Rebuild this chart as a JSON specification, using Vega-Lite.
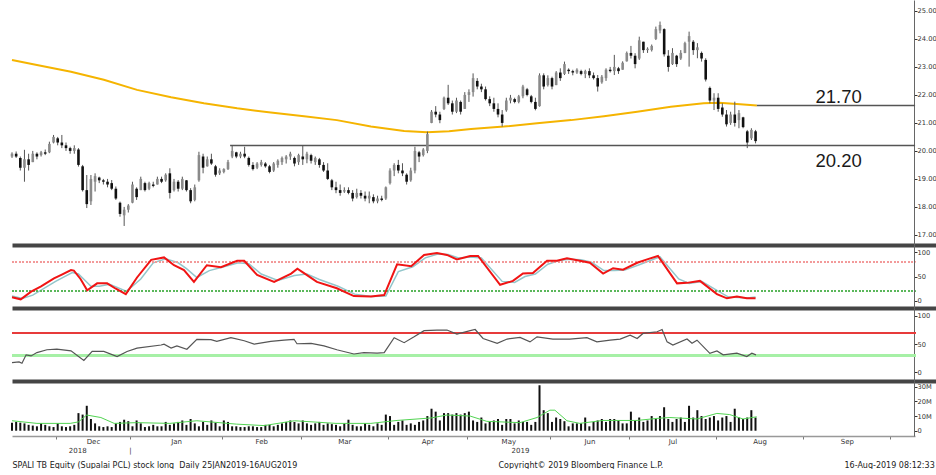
{
"$schema":"https://vega.github.io/schema/vega-lite/v6.json",
"background":"white",
"padding":{"left":8,"top":0,"right":0,"bottom":0},
"spacing":0,
"bounds":"flush",
"config":{"view":{"stroke":null},"scale":{"continuousPadding":0},"axis":{"grid":false,"labelOverlap":false,"labelBound":false,"labelFont":"DejaVu Sans","labelFontSize":6.7,"labelColor":"#333","tickColor":"#333","domainColor":"#666","tickSize":3,"labelPadding":0,"titleFont":"DejaVu Sans","titleFontWeight":"normal","titleFontSize":8,"titleColor":"#222"}},
"datasets":{
"px":[
{"i":0,"o":19.8,"h":19.95,"l":19.75,"c":19.9,"v":5.5},
{"i":1,"o":19.9,"h":19.98,"l":19.75,"c":19.8,"v":6},
{"i":2,"o":19.75,"h":19.8,"l":19.3,"c":19.4,"v":5.5},
{"i":3,"o":19.4,"h":20.04,"l":18.9,"c":19.7,"v":5},
{"i":4,"o":19.7,"h":19.9,"l":19.3,"c":19.5,"v":4},
{"i":5,"o":19.6,"h":20.0,"l":19.6,"c":19.9,"v":3.5},
{"i":6,"o":19.9,"h":19.95,"l":19.7,"c":19.8,"v":3},
{"i":7,"o":19.85,"h":20.0,"l":19.8,"c":19.95,"v":5},
{"i":8,"o":19.95,"h":20.05,"l":19.85,"c":19.9,"v":4},
{"i":9,"o":19.95,"h":20.33,"l":19.92,"c":20.25,"v":3},
{"i":10,"o":20.3,"h":20.57,"l":20.27,"c":20.5,"v":2.5},
{"i":11,"o":20.45,"h":20.5,"l":20.2,"c":20.3,"v":5},
{"i":12,"o":20.3,"h":20.57,"l":20.1,"c":20.2,"v":3},
{"i":13,"o":20.2,"h":20.3,"l":20.0,"c":20.1,"v":2.5},
{"i":14,"o":20.1,"h":20.15,"l":19.9,"c":20.0,"v":3},
{"i":15,"o":20.0,"h":20.2,"l":19.9,"c":20.1,"v":4},
{"i":16,"o":20.05,"h":20.1,"l":19.44,"c":19.5,"v":12},
{"i":17,"o":19.45,"h":19.5,"l":18.55,"c":18.6,"v":11},
{"i":18,"o":18.6,"h":19.14,"l":17.96,"c":18.1,"v":17},
{"i":19,"o":18.2,"h":19.14,"l":18.07,"c":19.0,"v":8},
{"i":20,"o":18.9,"h":19.2,"l":18.55,"c":19.1,"v":5},
{"i":21,"o":19.05,"h":19.08,"l":18.85,"c":18.95,"v":3},
{"i":22,"o":18.95,"h":19.0,"l":18.8,"c":18.9,"v":2.5},
{"i":23,"o":18.9,"h":19.0,"l":18.7,"c":18.8,"v":3},
{"i":24,"o":18.85,"h":18.96,"l":18.6,"c":18.65,"v":2.5},
{"i":25,"o":18.65,"h":18.73,"l":18.25,"c":18.3,"v":5},
{"i":26,"o":18.15,"h":18.19,"l":17.65,"c":17.75,"v":6},
{"i":27,"o":17.7,"h":18.0,"l":17.32,"c":17.9,"v":7.5},
{"i":28,"o":17.9,"h":18.1,"l":17.8,"c":18.05,"v":6.5},
{"i":29,"o":18.15,"h":18.9,"l":18.13,"c":18.8,"v":3},
{"i":30,"o":18.65,"h":18.7,"l":18.25,"c":18.35,"v":7},
{"i":31,"o":18.6,"h":19.08,"l":18.6,"c":19.0,"v":5},
{"i":32,"o":18.85,"h":18.9,"l":18.55,"c":18.6,"v":2.5},
{"i":33,"o":18.65,"h":18.9,"l":18.6,"c":18.85,"v":3},
{"i":34,"o":18.8,"h":18.9,"l":18.7,"c":18.75,"v":4},
{"i":35,"o":18.8,"h":19.08,"l":18.8,"c":19.0,"v":3},
{"i":36,"o":19.0,"h":19.08,"l":18.85,"c":18.9,"v":3},
{"i":37,"o":18.95,"h":19.2,"l":18.9,"c":19.15,"v":6},
{"i":38,"o":19.2,"h":19.38,"l":18.3,"c":18.5,"v":4},
{"i":39,"o":18.6,"h":19.0,"l":18.55,"c":18.9,"v":5},
{"i":40,"o":18.9,"h":18.96,"l":18.55,"c":18.65,"v":6},
{"i":41,"o":18.65,"h":19.08,"l":18.6,"c":19.0,"v":7},
{"i":42,"o":18.95,"h":18.96,"l":18.55,"c":18.6,"v":4},
{"i":43,"o":18.6,"h":18.67,"l":18.13,"c":18.2,"v":8},
{"i":44,"o":18.25,"h":18.8,"l":18.2,"c":18.7,"v":5},
{"i":45,"o":18.95,"h":19.97,"l":18.9,"c":19.85,"v":3},
{"i":46,"o":19.8,"h":19.9,"l":19.2,"c":19.4,"v":6},
{"i":47,"o":19.45,"h":19.8,"l":19.44,"c":19.7,"v":4},
{"i":48,"o":19.7,"h":19.9,"l":19.5,"c":19.55,"v":7},
{"i":49,"o":19.45,"h":19.5,"l":19.08,"c":19.15,"v":5.5},
{"i":50,"o":19.2,"h":19.38,"l":19.14,"c":19.3,"v":3},
{"i":51,"o":19.25,"h":19.38,"l":19.2,"c":19.35,"v":7},
{"i":52,"o":19.35,"h":19.68,"l":19.32,"c":19.6,"v":6},
{"i":53,"o":19.8,"h":20.2,"l":19.74,"c":20.0,"v":3},
{"i":54,"o":19.95,"h":19.97,"l":19.74,"c":19.8,"v":3},
{"i":55,"o":19.8,"h":19.97,"l":19.74,"c":19.9,"v":2.5},
{"i":56,"o":19.9,"h":20.15,"l":19.74,"c":19.8,"v":2.5},
{"i":57,"o":19.75,"h":19.8,"l":19.44,"c":19.5,"v":3},
{"i":58,"o":19.5,"h":19.6,"l":19.3,"c":19.35,"v":3},
{"i":59,"o":19.4,"h":19.6,"l":19.35,"c":19.55,"v":2.5},
{"i":60,"o":19.5,"h":19.68,"l":19.44,"c":19.6,"v":2.5},
{"i":61,"o":19.55,"h":19.6,"l":19.4,"c":19.45,"v":4},
{"i":62,"o":19.45,"h":19.5,"l":19.2,"c":19.25,"v":4},
{"i":63,"o":19.3,"h":19.6,"l":19.25,"c":19.55,"v":3},
{"i":64,"o":19.5,"h":19.7,"l":19.4,"c":19.65,"v":4},
{"i":65,"o":19.6,"h":19.8,"l":19.5,"c":19.75,"v":5},
{"i":66,"o":19.7,"h":19.85,"l":19.55,"c":19.8,"v":6},
{"i":67,"o":19.8,"h":19.97,"l":19.68,"c":19.9,"v":7},
{"i":68,"o":19.75,"h":19.8,"l":19.45,"c":19.55,"v":6},
{"i":69,"o":19.6,"h":19.9,"l":19.5,"c":19.85,"v":5},
{"i":70,"o":19.8,"h":20.2,"l":19.5,"c":19.7,"v":7},
{"i":71,"o":19.7,"h":19.97,"l":19.56,"c":19.9,"v":5},
{"i":72,"o":19.85,"h":19.9,"l":19.55,"c":19.65,"v":4},
{"i":73,"o":19.6,"h":19.8,"l":19.5,"c":19.75,"v":5},
{"i":74,"o":19.7,"h":19.75,"l":19.4,"c":19.5,"v":6},
{"i":75,"o":19.5,"h":19.6,"l":19.25,"c":19.3,"v":4},
{"i":76,"o":19.3,"h":19.56,"l":18.96,"c":19.0,"v":5},
{"i":77,"o":18.95,"h":19.0,"l":18.6,"c":18.7,"v":4.5},
{"i":78,"o":18.7,"h":18.9,"l":18.49,"c":18.6,"v":4},
{"i":79,"o":18.6,"h":18.8,"l":18.4,"c":18.5,"v":3},
{"i":80,"o":18.55,"h":18.7,"l":18.5,"c":18.6,"v":5},
{"i":81,"o":18.6,"h":18.7,"l":18.45,"c":18.5,"v":7.5},
{"i":82,"o":18.5,"h":18.6,"l":18.2,"c":18.3,"v":4},
{"i":83,"o":18.35,"h":18.65,"l":18.3,"c":18.5,"v":3},
{"i":84,"o":18.5,"h":18.6,"l":18.3,"c":18.4,"v":3},
{"i":85,"o":18.4,"h":18.55,"l":18.2,"c":18.3,"v":5},
{"i":86,"o":18.3,"h":18.55,"l":18.13,"c":18.4,"v":4},
{"i":87,"o":18.35,"h":18.45,"l":18.13,"c":18.2,"v":3},
{"i":88,"o":18.2,"h":18.4,"l":18.13,"c":18.3,"v":5},
{"i":89,"o":18.3,"h":18.4,"l":18.2,"c":18.25,"v":4},
{"i":90,"o":18.3,"h":18.73,"l":18.25,"c":18.7,"v":11},
{"i":91,"o":18.85,"h":19.38,"l":18.8,"c":19.3,"v":10},
{"i":92,"o":19.3,"h":19.56,"l":19.1,"c":19.5,"v":4},
{"i":93,"o":19.5,"h":19.68,"l":19.2,"c":19.3,"v":6},
{"i":94,"o":19.3,"h":19.56,"l":19.1,"c":19.2,"v":7},
{"i":95,"o":19.15,"h":19.2,"l":18.8,"c":18.9,"v":4},
{"i":96,"o":18.95,"h":19.4,"l":18.9,"c":19.3,"v":5},
{"i":97,"o":19.3,"h":20.15,"l":19.2,"c":20.0,"v":4},
{"i":98,"o":19.95,"h":20.0,"l":19.6,"c":19.8,"v":6},
{"i":99,"o":19.85,"h":20.1,"l":19.8,"c":20.05,"v":7},
{"i":100,"o":20.0,"h":20.69,"l":19.92,"c":20.6,"v":10},
{"i":101,"o":21.0,"h":21.46,"l":20.99,"c":21.4,"v":15},
{"i":102,"o":21.4,"h":21.6,"l":21.2,"c":21.3,"v":13},
{"i":103,"o":21.3,"h":21.4,"l":20.99,"c":21.1,"v":7},
{"i":104,"o":21.5,"h":21.94,"l":21.46,"c":21.9,"v":12},
{"i":105,"o":21.9,"h":22.36,"l":21.64,"c":21.7,"v":12},
{"i":106,"o":21.7,"h":21.8,"l":21.3,"c":21.4,"v":11},
{"i":107,"o":21.4,"h":21.9,"l":21.35,"c":21.8,"v":12},
{"i":108,"o":21.75,"h":21.8,"l":21.3,"c":21.4,"v":11},
{"i":109,"o":21.5,"h":22.1,"l":21.5,"c":22.0,"v":12},
{"i":110,"o":22.0,"h":22.2,"l":21.75,"c":22.1,"v":13},
{"i":111,"o":22.1,"h":22.77,"l":21.94,"c":22.6,"v":7},
{"i":112,"o":22.5,"h":22.6,"l":22.2,"c":22.3,"v":6},
{"i":113,"o":22.3,"h":22.4,"l":22.1,"c":22.2,"v":9},
{"i":114,"o":22.2,"h":22.3,"l":21.8,"c":21.85,"v":5},
{"i":115,"o":21.85,"h":21.95,"l":21.6,"c":21.7,"v":6},
{"i":116,"o":21.7,"h":21.9,"l":21.4,"c":21.5,"v":7},
{"i":117,"o":21.5,"h":21.7,"l":21.2,"c":21.3,"v":8},
{"i":118,"o":21.3,"h":21.46,"l":20.87,"c":21.0,"v":4},
{"i":119,"o":21.45,"h":21.9,"l":21.4,"c":21.8,"v":8},
{"i":120,"o":21.8,"h":22.0,"l":21.7,"c":21.9,"v":8},
{"i":121,"o":21.85,"h":21.9,"l":21.7,"c":21.75,"v":5},
{"i":122,"o":21.75,"h":22.0,"l":21.7,"c":21.95,"v":7},
{"i":123,"o":21.95,"h":22.36,"l":21.88,"c":22.3,"v":6},
{"i":124,"o":22.2,"h":22.25,"l":21.95,"c":22.0,"v":6},
{"i":125,"o":21.95,"h":22.0,"l":21.7,"c":21.75,"v":4},
{"i":126,"o":21.75,"h":21.9,"l":21.45,"c":21.5,"v":6},
{"i":127,"o":21.6,"h":22.77,"l":21.58,"c":22.7,"v":31},
{"i":128,"o":22.7,"h":22.77,"l":22.2,"c":22.3,"v":14},
{"i":129,"o":22.35,"h":22.7,"l":22.3,"c":22.6,"v":12},
{"i":130,"o":22.6,"h":22.65,"l":22.2,"c":22.3,"v":6},
{"i":131,"o":22.35,"h":22.85,"l":22.35,"c":22.8,"v":9},
{"i":132,"o":22.8,"h":22.95,"l":22.5,"c":22.6,"v":8},
{"i":133,"o":22.75,"h":23.19,"l":22.71,"c":23.1,"v":6.5},
{"i":134,"o":22.9,"h":22.95,"l":22.75,"c":22.85,"v":3},
{"i":135,"o":22.85,"h":22.9,"l":22.7,"c":22.8,"v":5},
{"i":136,"o":22.8,"h":22.95,"l":22.75,"c":22.9,"v":5},
{"i":137,"o":22.85,"h":22.9,"l":22.7,"c":22.75,"v":5},
{"i":138,"o":22.75,"h":22.9,"l":22.6,"c":22.85,"v":9},
{"i":139,"o":22.85,"h":22.95,"l":22.6,"c":22.7,"v":3},
{"i":140,"o":22.7,"h":22.8,"l":22.55,"c":22.6,"v":6},
{"i":141,"o":22.6,"h":22.71,"l":22.12,"c":22.3,"v":7},
{"i":142,"o":22.45,"h":22.71,"l":22.4,"c":22.65,"v":8},
{"i":143,"o":22.6,"h":22.95,"l":22.5,"c":22.9,"v":6},
{"i":144,"o":22.9,"h":23.0,"l":22.8,"c":22.85,"v":8},
{"i":145,"o":22.85,"h":23.43,"l":22.71,"c":23.0,"v":8},
{"i":146,"o":22.95,"h":23.0,"l":22.75,"c":22.85,"v":7},
{"i":147,"o":22.9,"h":23.2,"l":22.9,"c":23.15,"v":5},
{"i":148,"o":23.2,"h":23.55,"l":23.19,"c":23.5,"v":5},
{"i":149,"o":23.5,"h":23.75,"l":23.3,"c":23.4,"v":13},
{"i":150,"o":23.4,"h":23.49,"l":22.95,"c":23.1,"v":7},
{"i":151,"o":23.3,"h":24.08,"l":23.25,"c":23.95,"v":9},
{"i":152,"o":23.9,"h":23.9,"l":23.5,"c":23.6,"v":6},
{"i":153,"o":23.6,"h":23.7,"l":23.5,"c":23.65,"v":7},
{"i":154,"o":23.6,"h":23.8,"l":23.55,"c":23.75,"v":10},
{"i":155,"o":24.0,"h":24.44,"l":23.96,"c":24.35,"v":8},
{"i":156,"o":24.3,"h":24.62,"l":24.2,"c":24.5,"v":10},
{"i":157,"o":24.35,"h":24.38,"l":23.37,"c":23.45,"v":16},
{"i":158,"o":23.4,"h":23.6,"l":22.83,"c":23.0,"v":8},
{"i":159,"o":23.1,"h":23.67,"l":23.07,"c":23.5,"v":6},
{"i":160,"o":23.4,"h":23.43,"l":23.0,"c":23.1,"v":8},
{"i":161,"o":23.3,"h":23.6,"l":23.25,"c":23.5,"v":9},
{"i":162,"o":23.5,"h":23.9,"l":23.49,"c":23.85,"v":6},
{"i":163,"o":23.9,"h":24.26,"l":23.01,"c":24.1,"v":17},
{"i":164,"o":23.9,"h":23.96,"l":23.43,"c":23.6,"v":9},
{"i":165,"o":23.6,"h":23.85,"l":23.31,"c":23.7,"v":14},
{"i":166,"o":23.5,"h":23.55,"l":23.19,"c":23.3,"v":10},
{"i":167,"o":23.25,"h":23.31,"l":22.48,"c":22.55,"v":8},
{"i":168,"o":22.25,"h":22.3,"l":21.7,"c":21.8,"v":9},
{"i":169,"o":21.8,"h":22.06,"l":21.46,"c":21.9,"v":10},
{"i":170,"o":21.9,"h":22.06,"l":21.4,"c":21.5,"v":7},
{"i":171,"o":21.55,"h":21.7,"l":21.22,"c":21.3,"v":9},
{"i":172,"o":21.3,"h":21.46,"l":20.87,"c":20.95,"v":10},
{"i":173,"o":21.0,"h":21.4,"l":20.93,"c":21.3,"v":6},
{"i":174,"o":21.3,"h":21.76,"l":20.87,"c":21.0,"v":15},
{"i":175,"o":21.1,"h":21.46,"l":20.81,"c":21.35,"v":9},
{"i":176,"o":21.2,"h":21.22,"l":20.81,"c":20.85,"v":8},
{"i":177,"o":20.7,"h":20.75,"l":20.1,"c":20.3,"v":9},
{"i":178,"o":20.45,"h":20.81,"l":20.39,"c":20.75,"v":14},
{"i":179,"o":20.7,"h":20.75,"l":20.27,"c":20.35,"v":9}
],
"ma":[
{"i":0,"p":23.25},{"i":6,"p":23.07},{"i":14.2,"p":22.83},{"i":22.1,"p":22.54},{"i":30.1,"p":22.18},{"i":38.3,"p":21.92},{"i":46.2,"p":21.7},{"i":54.2,"p":21.52},{"i":62.3,"p":21.37},{"i":70.3,"p":21.24},{"i":78.2,"p":21.1},{"i":86.4,"p":20.87},{"i":94.4,"p":20.71},{"i":99.9,"p":20.67},{"i":105.2,"p":20.7},{"i":110.5,"p":20.78},{"i":118.4,"p":20.87},{"i":126.4,"p":20.99},{"i":134.6,"p":21.1},{"i":142.5,"p":21.24},{"i":150.5,"p":21.4},{"i":158.6,"p":21.58},{"i":166.5,"p":21.7},{"i":170.2,"p":21.72},{"i":174.5,"p":21.68},{"i":179.3,"p":21.62}
],
"lv":[
{"i":52.5,"to":217.4,"lvl":20.19,"label":"20.20"},
{"i":179.3,"to":217.4,"lvl":21.62,"label":"21.70"}
],
"sk":[
{"i":0,"v":7.5},{"i":2.1,"v":3.4},{"i":4.6,"v":19},{"i":7,"v":30},{"i":10.1,"v":46},{"i":12,"v":54},{"i":14.2,"v":63},{"i":14.9,"v":62},{"i":16.5,"v":45},{"i":18.1,"v":22},{"i":20.5,"v":36},{"i":22.9,"v":36},{"i":25,"v":25},{"i":27.4,"v":14},{"i":30.1,"v":48},{"i":33.5,"v":84},{"i":36.6,"v":89},{"i":39,"v":73},{"i":41.4,"v":63},{"i":43.8,"v":39},{"i":46.9,"v":73},{"i":50.3,"v":69},{"i":54.2,"v":82},{"i":55.9,"v":82},{"i":59,"v":53},{"i":63.1,"v":39},{"i":67.2,"v":56},{"i":68.7,"v":66},{"i":70.3,"v":57},{"i":73.4,"v":39},{"i":78.2,"v":26},{"i":82.3,"v":10},{"i":86.4,"v":9},{"i":89.6,"v":12},{"i":92.7,"v":75},{"i":96.1,"v":71},{"i":99.2,"v":94},{"i":102.3,"v":98},{"i":104.7,"v":94},{"i":107.1,"v":85},{"i":110.3,"v":92},{"i":112.2,"v":92},{"i":117.5,"v":33},{"i":120.6,"v":41},{"i":123,"v":56},{"i":125.4,"v":57},{"i":128.8,"v":82},{"i":131.2,"v":82},{"i":133.6,"v":87},{"i":136.7,"v":82},{"i":139.1,"v":78},{"i":142.3,"v":56},{"i":144.7,"v":67},{"i":147.1,"v":64},{"i":150.5,"v":78},{"i":152.9,"v":85},{"i":155.5,"v":92},{"i":160.1,"v":36},{"i":162.5,"v":37},{"i":165.6,"v":41},{"i":169.7,"v":14},{"i":172.1,"v":5.5},{"i":174.5,"v":9},{"i":176.9,"v":5.5},{"i":179,"v":5.5}
],
"sd":[
{"i":0,"v":10},{"i":2.5,"v":5},{"i":5,"v":12},{"i":10.5,"v":40},{"i":14.5,"v":58},{"i":16,"v":55},{"i":19,"v":30},{"i":21,"v":30},{"i":23.5,"v":34},{"i":27.5,"v":20},{"i":29,"v":30},{"i":31,"v":45},{"i":34,"v":78},{"i":37,"v":86},{"i":40,"v":78},{"i":42,"v":66},{"i":44.5,"v":48},{"i":47.5,"v":62},{"i":51,"v":70},{"i":54.5,"v":78},{"i":57,"v":76},{"i":60,"v":55},{"i":64,"v":42},{"i":68,"v":52},{"i":71,"v":55},{"i":74,"v":44},{"i":78.5,"v":30},{"i":82.5,"v":14},{"i":86.5,"v":9},{"i":90,"v":10},{"i":93,"v":60},{"i":96.5,"v":70},{"i":99.5,"v":88},{"i":102.5,"v":96},{"i":105,"v":95},{"i":107.5,"v":88},{"i":110.5,"v":90},{"i":113,"v":88},{"i":118,"v":40},{"i":121,"v":38},{"i":123.5,"v":50},{"i":126,"v":55},{"i":129,"v":75},{"i":131.5,"v":82},{"i":134,"v":85},{"i":137,"v":84},{"i":139.5,"v":79},{"i":142.5,"v":62},{"i":145,"v":62},{"i":147.5,"v":63},{"i":151,"v":74},{"i":153.5,"v":82},{"i":156,"v":90},{"i":160.5,"v":45},{"i":163,"v":36},{"i":166,"v":40},{"i":170,"v":20},{"i":172.5,"v":8},{"i":175,"v":7},{"i":177,"v":6},{"i":179,"v":8}
],
"rsi":[
{"i":0,"v":17},{"i":1.7,"v":18.5},{"i":2.4,"v":16},{"i":3.4,"v":31},{"i":4.6,"v":29},{"i":6,"v":35},{"i":8.4,"v":40},{"i":10.8,"v":41},{"i":14.2,"v":38},{"i":17.3,"v":21},{"i":19.3,"v":37},{"i":22.1,"v":37},{"i":25.3,"v":28},{"i":27.7,"v":37},{"i":30.1,"v":43},{"i":35.9,"v":48.5},{"i":36.6,"v":50},{"i":38.3,"v":43},{"i":39.7,"v":47},{"i":42.1,"v":41},{"i":44.5,"v":58.6},{"i":47.9,"v":58},{"i":49.3,"v":55},{"i":52.7,"v":61.5},{"i":55.9,"v":56},{"i":58.3,"v":50},{"i":62.3,"v":55},{"i":65.5,"v":57},{"i":67.9,"v":58.6},{"i":68.6,"v":50.7},{"i":72,"v":51.5},{"i":75.1,"v":47},{"i":78.2,"v":40},{"i":82.3,"v":32.5},{"i":84.7,"v":35},{"i":87.9,"v":34},{"i":89.6,"v":35},{"i":92,"v":61.5},{"i":94.4,"v":52.6},{"i":96.8,"v":63},{"i":99.2,"v":74},{"i":102.3,"v":75},{"i":104.7,"v":75},{"i":107.1,"v":68},{"i":110.3,"v":74},{"i":111.5,"v":76},{"i":113.4,"v":60},{"i":116.8,"v":51.5},{"i":119.2,"v":59},{"i":122.3,"v":62},{"i":124.7,"v":54},{"i":126.4,"v":63},{"i":130.2,"v":59},{"i":134.3,"v":59},{"i":138.4,"v":61.5},{"i":140.8,"v":54},{"i":144,"v":57},{"i":146.4,"v":59},{"i":148.8,"v":66},{"i":150.5,"v":60},{"i":151.9,"v":69},{"i":155.3,"v":72},{"i":156.5,"v":76},{"i":157.7,"v":54},{"i":159.1,"v":48.5},{"i":162.5,"v":59},{"i":163.7,"v":51.5},{"i":164.9,"v":57},{"i":168,"v":33.7},{"i":169.7,"v":38},{"i":171.2,"v":31},{"i":174.5,"v":34},{"i":176.9,"v":28},{"i":178.1,"v":34},{"i":179.1,"v":31}
],
"vma":[
{"i":0,"v":6.8},{"i":6,"v":5},{"i":14,"v":5},{"i":16,"v":6},{"i":18,"v":10.7},{"i":21.4,"v":9},{"i":24.6,"v":5},{"i":30,"v":5.5},{"i":38,"v":5},{"i":44.5,"v":6.8},{"i":54,"v":4.5},{"i":60.7,"v":3.5},{"i":68,"v":6.8},{"i":78,"v":5},{"i":86.4,"v":5},{"i":92.7,"v":7},{"i":100.9,"v":8.7},{"i":104.7,"v":10.7},{"i":110.3,"v":10},{"i":114.3,"v":6.4},{"i":122.3,"v":5.5},{"i":126.4,"v":9},{"i":129.5,"v":14},{"i":130.7,"v":14},{"i":133.6,"v":6.8},{"i":136.7,"v":5},{"i":142.3,"v":7},{"i":150.5,"v":7},{"i":155.3,"v":8.4},{"i":158.4,"v":9},{"i":164.9,"v":8},{"i":169.7,"v":11.8},{"i":172.8,"v":11},{"i":176,"v":8},{"i":179.3,"v":9.5}
]
},
"vconcat":[
{"width":928,"height":245,
"layer":[
{"data":{"name":"ma"},"mark":{"type":"line","color":"#f5b400","strokeWidth":2},
"encoding":{"x":{"field":"i","type":"quantitative","scale":{"domain":[0,223.4],"nice":false,"padding":0},"axis":{"orient":"bottom","labels":false,"ticks":false,"title":null,"domainColor":"#454545","domainWidth":4}},
"y":{"field":"p","type":"quantitative","scale":{"domain":[16.64,25.39],"zero":false,"nice":false},"axis":{"orient":"right","offset":-26,"values":[17,18,19,20,21,22,23,24,25],"format":".2f","title":null,"labelOverlap":false,"labelSeparation":0,"tickCount":9}}}},
{"data":{"name":"lv"},"mark":{"type":"rule","color":"#555","strokeWidth":1.5},
"encoding":{"x":{"field":"i","type":"quantitative","scale":{"domain":[0,223.4],"nice":false,"padding":0}},"x2":{"field":"to"},"y":{"field":"lvl","type":"quantitative","scale":{"domain":[16.64,25.39],"zero":false,"nice":false}}}},
{"data":{"name":"px"},"mark":{"type":"rule","color":"#555","strokeWidth":1},
"encoding":{"x":{"field":"i","type":"quantitative","scale":{"domain":[0,223.4],"nice":false,"padding":0}},"y":{"field":"l","type":"quantitative","scale":{"domain":[16.64,25.39],"zero":false,"nice":false}},"y2":{"field":"h"}}},
{"data":{"name":"px"},"mark":{"type":"bar","size":2.6},
"encoding":{"x":{"field":"i","type":"quantitative","scale":{"domain":[0,223.4],"nice":false,"padding":0}},"y":{"field":"o","type":"quantitative","scale":{"domain":[16.64,25.39],"zero":false,"nice":false}},"y2":{"field":"c"},"color":{"condition":{"test":"datum.c >= datum.o","value":"#8a8a8a"},"value":"#111111"}}},
{"data":{"name":"lv"},"transform":[{"filter":"datum.label == '21.70'"}],"mark":{"type":"text","font":"Liberation Sans","fontSize":18.5,"color":"#1a1a1a","align":"center","baseline":"alphabetic","dy":-3},
"encoding":{"x":{"datum":199,"type":"quantitative","scale":{"domain":[0,223.4],"nice":false,"padding":0}},"y":{"field":"lvl","type":"quantitative","scale":{"domain":[16.64,25.39],"zero":false,"nice":false}},"text":{"field":"label"}}},
{"data":{"name":"lv"},"transform":[{"filter":"datum.label == '20.20'"}],"mark":{"type":"text","font":"Liberation Sans","fontSize":18.5,"color":"#1a1a1a","align":"center","baseline":"alphabetic","dy":21},
"encoding":{"x":{"datum":199,"type":"quantitative","scale":{"domain":[0,223.4],"nice":false,"padding":0}},"y":{"field":"lvl","type":"quantitative","scale":{"domain":[16.64,25.39],"zero":false,"nice":false}},"text":{"field":"label"}}}
]},
{"width":928,"height":63,
"layer":[
{"data":{"name":"sd"},"mark":{"type":"line","color":"#93c6cb","strokeWidth":1.5},
"encoding":{"x":{"field":"i","type":"quantitative","scale":{"domain":[0,223.4],"nice":false,"padding":0},"axis":{"orient":"bottom","labels":false,"ticks":false,"title":null,"domainColor":"#454545","domainWidth":4}},
"y":{"field":"v","type":"quantitative","scale":{"domain":[-14.3,114.3],"nice":false},"axis":{"orient":"right","offset":-26,"values":[0,50,100],"title":null,"labelOverlap":false,"labelSeparation":0,"tickCount":3}}}},
{"data":{"name":"sd"},"mark":{"type":"rule","color":"#f29a9a","strokeWidth":1,"strokeDash":[1.5,2]},
"encoding":{"x":{"datum":0,"type":"quantitative","scale":{"domain":[0,223.4],"nice":false,"padding":0}},"x2":{"datum":217.4},"y":{"datum":80,"type":"quantitative","scale":{"domain":[-14.3,114.3],"nice":false}}}},
{"data":{"name":"sd"},"mark":{"type":"rule","color":"#5cb85c","strokeWidth":1,"strokeDash":[1.5,2]},
"encoding":{"x":{"datum":0,"type":"quantitative","scale":{"domain":[0,223.4],"nice":false,"padding":0}},"x2":{"datum":217.4},"y":{"datum":20,"type":"quantitative","scale":{"domain":[-14.3,114.3],"nice":false}}}},
{"data":{"name":"sk"},"mark":{"type":"line","color":"#f01414","strokeWidth":2},
"encoding":{"x":{"field":"i","type":"quantitative","scale":{"domain":[0,223.4],"nice":false,"padding":0}},"y":{"field":"v","type":"quantitative","scale":{"domain":[-14.3,114.3],"nice":false}}}}
]},
{"width":928,"height":73,
"layer":[
{"data":{"name":"rsi"},"mark":{"type":"rule","color":"#e63c3c","strokeWidth":1},
"encoding":{"x":{"datum":0,"type":"quantitative","scale":{"domain":[0,223.4],"nice":false,"padding":0}},"x2":{"datum":217.4},"y":{"datum":70,"type":"quantitative","scale":{"domain":[-15.5,114.2],"nice":false}}}},
{"data":{"name":"rsi"},"mark":{"type":"rule","color":"#a6f0a6","strokeWidth":3},
"encoding":{"x":{"datum":0,"type":"quantitative","scale":{"domain":[0,223.4],"nice":false,"padding":0}},"x2":{"datum":217.4},"y":{"datum":30,"type":"quantitative","scale":{"domain":[-15.5,114.2],"nice":false}}}},
{"data":{"name":"rsi"},"mark":{"type":"line","color":"#555555","strokeWidth":1.2},
"encoding":{"x":{"field":"i","type":"quantitative","scale":{"domain":[0,223.4],"nice":false,"padding":0},"axis":{"orient":"bottom","labels":false,"ticks":false,"title":null,"domainColor":"#454545","domainWidth":4}},
"y":{"field":"v","type":"quantitative","scale":{"domain":[-15.5,114.2],"nice":false},"axis":{"orient":"right","offset":-26,"values":[0,50,100],"title":null,"labelOverlap":false,"labelSeparation":0,"tickCount":3}}}}
]},
{"width":903,"height":55,
"resolve":{"axis":{"x":"independent"}},
"layer":[
{"data":{"name":"px"},"mark":{"type":"bar","size":2,"color":"#111111"},
"encoding":{"x":{"field":"i","type":"quantitative","scale":{"domain":[0,217.4],"nice":false,"padding":0},"axis":{"orient":"bottom","values":[10.5,28.5,50.5,69.5,90.5,109.5,129.5,148.5,169.5,190.5,211.5],"tickCount":11,"labels":false,"ticks":true,"tickSize":3,"tickColor":"#777","domainColor":"#999","domainWidth":1.5,"title":"SPALI TB Equity (Supalai PCL) stock long\u00a0 Daily 25JAN2019-16AUG2019","titleAnchor":"start","titleAlign":"left","titleX":0,"titleY":31,"titleBaseline":"alphabetic"}},
"y":{"field":"v","type":"quantitative","scale":{"domain":[-3.6,33.9],"nice":false},"axis":{"orient":"right","offset":-1,"values":[0,10,20,30],"tickCount":4,"labelOverlap":false,"labelSeparation":0,"labelExpr":"datum.value == 0 ? '0' : datum.value + 'M'","title":"16-Aug-2019 08:12:33","titleAngle":0,"titleAlign":"left","titleX":-70,"titleY":86,"titleBaseline":"alphabetic"}}}},
{"data":{"name":"vma"},"mark":{"type":"line","color":"#52d452","strokeWidth":1},
"encoding":{"x":{"field":"i","type":"quantitative","scale":{"domain":[0,217.4],"nice":false,"padding":0},"axis":{"orient":"bottom","values":[15.7,19.5,28.4,39.5,60,80,100,119.5,122.3,139,159,180,201],"tickCount":13,"domain":false,"ticks":false,"labelOverlap":false,"labelBound":false,"labelFlush":false,"labelFontSize":7,"labelPadding":1,"labelLineHeight":9,"labelColor":"#333","labelExpr":"datum.value == 15.7 ? ['', '2018'] : datum.value == 28.4 ? ['', '|'] : datum.value == 122.3 ? ['', '2019'] : datum.value < 25 ? 'Dec' : datum.value < 45 ? 'Jan' : datum.value < 70 ? 'Feb' : datum.value < 90 ? 'Mar' : datum.value < 110 ? 'Apr' : datum.value < 130 ? 'May' : datum.value < 150 ? 'Jun' : datum.value < 170 ? 'Jul' : datum.value < 190 ? 'Aug' : 'Sep'","title":"Copyright\u00a9 2019 Bloomberg Finance L.P.","titleAnchor":"start","titleAlign":"left","titleX":486,"titleY":31,"titleBaseline":"alphabetic"}},
"y":{"field":"v","type":"quantitative","scale":{"domain":[-3.6,33.9],"nice":false}}}}
]}
]
}
